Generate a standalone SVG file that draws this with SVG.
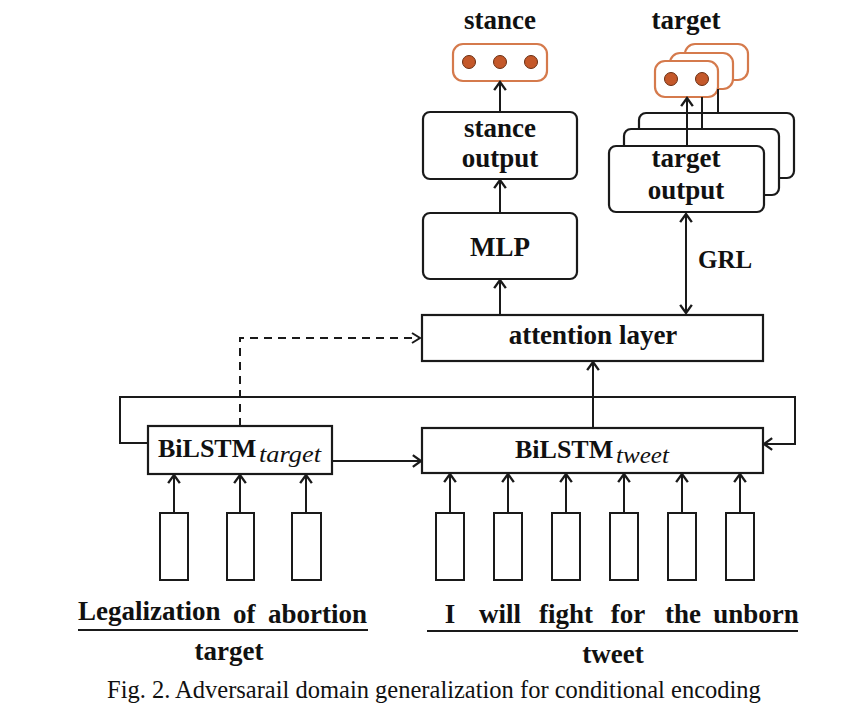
<svg xmlns="http://www.w3.org/2000/svg" width="865" height="711" viewBox="0 0 865 711">
<defs>
<style>
.box{fill:#fff;stroke:#1a1a1a;stroke-width:2.2}
.rbox{fill:#fff;stroke:#1a1a1a;stroke-width:2.2}
.obox{fill:#fff;stroke:#d57a4c;stroke-width:2.2}
.dot{fill:#c4582a;stroke:#6a2e12;stroke-width:1}
.wbox{fill:#fff;stroke:#1a1a1a;stroke-width:2}
.ln{fill:none;stroke:#1a1a1a;stroke-width:2}
.dash{fill:none;stroke:#1a1a1a;stroke-width:2;stroke-dasharray:8 6}
.t{font-family:"Liberation Serif","Times New Roman",serif;font-weight:bold;font-size:27px;fill:#111}
.sub{font-family:"Liberation Serif","Times New Roman",serif;font-style:italic;font-size:24px;fill:#111}
.cap{font-family:"Liberation Serif","Times New Roman",serif;font-size:24.5px;fill:#111}
.ul{stroke:#1a1a1a;stroke-width:2.2}
</style>
<marker id="ah" markerWidth="14" markerHeight="14" refX="0" refY="0" viewBox="-8 -6 10 12" orient="auto-start-reverse" markerUnits="userSpaceOnUse">
<path d="M-7,-5 L0,0 L-7,5" fill="none" stroke="#1a1a1a" stroke-width="2"/>
</marker>
</defs>
<rect width="865" height="711" fill="#fff"/>

<g id="stance-label"><text class="t" x="500" y="29" text-anchor="middle">stance</text></g>
<g id="stance-dots">
<rect class="obox" x="453" y="44" width="94" height="37" rx="10"/>
<circle class="dot" cx="469" cy="62" r="6.5"/>
<circle class="dot" cx="500" cy="62" r="6.5"/>
<circle class="dot" cx="531" cy="62" r="6.5"/>
</g>
<g id="stance-output">
<rect class="rbox" x="423" y="112" width="154" height="67" rx="7"/>
<text class="t" x="500" y="137" text-anchor="middle">stance</text>
<text class="t" x="500" y="167" text-anchor="middle">output</text>
</g>
<g id="mlp">
<rect class="rbox" x="423" y="213" width="154" height="66" rx="7"/>
<text class="t" x="500" y="256" text-anchor="middle">MLP</text>
</g>

<g id="target-label"><text class="t" x="686" y="29" text-anchor="middle">target</text></g>
<g id="target-dots">
<rect class="obox" x="685" y="44" width="63" height="36" rx="10"/>
<rect class="obox" x="670" y="53" width="63" height="36" rx="10"/>
<rect class="obox" x="655" y="61" width="63" height="36" rx="10"/>
<circle class="dot" cx="671" cy="79" r="6.5"/>
<circle class="dot" cx="702" cy="79" r="6.5"/>
</g>
<g id="target-output">
<rect class="rbox" x="639" y="113" width="155" height="65" rx="7"/>
<rect class="rbox" x="624" y="129" width="155" height="66" rx="7"/>
<rect class="rbox" x="609" y="146" width="155" height="66" rx="7"/>
<text class="t" x="686" y="167" text-anchor="middle">target</text>
<text class="t" x="686" y="199" text-anchor="middle">output</text>
</g>
<g id="grl-label"><text class="t" x="698" y="268" style="font-size:25px">GRL</text></g>

<g id="attention">
<rect class="box" x="422" y="315" width="341" height="46"/>
<text class="t" x="593" y="344" text-anchor="middle">attention layer</text>
</g>

<g id="bilstm-target">
<rect class="box" x="148" y="426" width="184" height="48"/>
<text class="t" x="158" y="457" style="font-size:26px">BiLSTM</text>
<text class="sub" x="259" y="462" textLength="62" lengthAdjust="spacingAndGlyphs">target</text>
</g>
<g id="bilstm-tweet">
<rect class="box" x="422" y="428" width="341" height="45"/>
<text class="t" x="515" y="458" style="font-size:26px">BiLSTM</text>
<text class="sub" x="616" y="463" textLength="53" lengthAdjust="spacingAndGlyphs">tweet</text>
</g>

<g id="target-words">
<rect class="wbox" x="160" y="513" width="28" height="67"/>
<rect class="wbox" x="227" y="513" width="27" height="67"/>
<rect class="wbox" x="292" y="513" width="29" height="67"/>
</g>
<g id="tweet-words">
<rect class="wbox" x="436" y="513" width="28" height="67"/>
<rect class="wbox" x="494" y="513" width="28" height="67"/>
<rect class="wbox" x="552" y="513" width="28" height="67"/>
<rect class="wbox" x="610" y="513" width="28" height="67"/>
<rect class="wbox" x="668" y="513" width="28" height="67"/>
<rect class="wbox" x="726" y="513" width="28" height="67"/>
</g>

<g id="target-text">
<text class="t" x="78" y="620">Legalization</text>
<text class="t" x="233" y="623">of</text>
<text class="t" x="268" y="623">abortion</text>
<line class="ul" x1="78" y1="630" x2="368" y2="630"/>
<text class="t" x="229" y="660" text-anchor="middle">target</text>
</g>
<g id="tweet-text">
<text class="t" x="450" y="623" text-anchor="middle">I</text>
<text class="t" x="500" y="623" text-anchor="middle">will</text>
<text class="t" x="566" y="623" text-anchor="middle">fight</text>
<text class="t" x="628" y="623" text-anchor="middle">for</text>
<text class="t" x="683" y="623" text-anchor="middle">the</text>
<text class="t" x="756" y="623" text-anchor="middle">unborn</text>
<line class="ul" x1="427" y1="631" x2="798" y2="631"/>
<text class="t" x="613" y="663" text-anchor="middle">tweet</text>
</g>

<g id="connectors">
<line class="ln" x1="500" y1="112" x2="500" y2="82" marker-end="url(#ah)"/>
<line class="ln" x1="500" y1="213" x2="500" y2="180" marker-end="url(#ah)"/>
<line class="ln" x1="500" y1="315" x2="500" y2="280" marker-end="url(#ah)"/>
<line class="ln" x1="687" y1="146" x2="687" y2="98" marker-end="url(#ah)"/>
<line class="ln" x1="702" y1="129" x2="702" y2="97"/>
<line class="ln" x1="718" y1="113" x2="718" y2="89"/>
<line class="ln" x1="686" y1="214" x2="686" y2="313" marker-start="url(#ah)" marker-end="url(#ah)"/>
<line class="ln" x1="593" y1="428" x2="593" y2="362" marker-end="url(#ah)"/>
<path class="dash" d="M240,426 L240,338 L420,338"/>
<path class="ln" d="M412,333 L420,338 L412,343"/>
<path class="ln" d="M148,443 L120,443 L120,397 L795,397 L795,444 L764,444" marker-end="url(#ah)"/>
<line class="ln" x1="332" y1="461" x2="421" y2="461" marker-end="url(#ah)"/>
<line class="ln" x1="174" y1="513" x2="174" y2="475" marker-end="url(#ah)"/>
<line class="ln" x1="240" y1="513" x2="240" y2="475" marker-end="url(#ah)"/>
<line class="ln" x1="306" y1="513" x2="306" y2="475" marker-end="url(#ah)"/>
<line class="ln" x1="450" y1="513" x2="450" y2="474" marker-end="url(#ah)"/>
<line class="ln" x1="508" y1="513" x2="508" y2="474" marker-end="url(#ah)"/>
<line class="ln" x1="566" y1="513" x2="566" y2="474" marker-end="url(#ah)"/>
<line class="ln" x1="624" y1="513" x2="624" y2="474" marker-end="url(#ah)"/>
<line class="ln" x1="682" y1="513" x2="682" y2="474" marker-end="url(#ah)"/>
<line class="ln" x1="740" y1="513" x2="740" y2="474" marker-end="url(#ah)"/>
</g>

<g id="caption"><text class="cap" x="107" y="698">Fig. 2. Adversarail domain generalization for conditional encoding</text></g>
</svg>
